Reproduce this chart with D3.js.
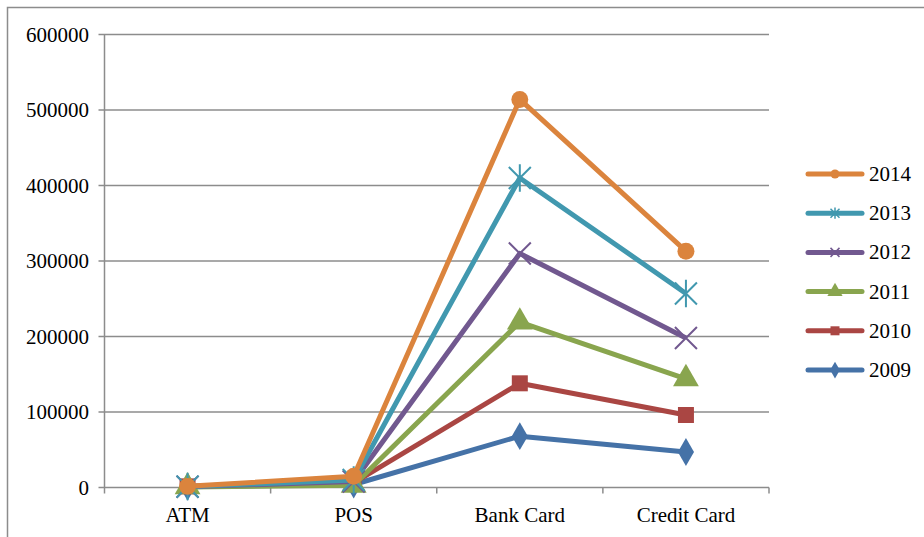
<!DOCTYPE html>
<html><head><meta charset="utf-8">
<script src="https://cdn.jsdelivr.net/npm/d3@7"></script>
</head><body style="margin:0"><svg id="c" width="924" height="537"></svg>
<script>
const categories = ["ATM", "POS", "Bank Card", "Credit Card"];
const years = ["2014", "2013", "2012", "2011", "2010", "2009"];
const v2014 = [1500, 15000, 514000, 313000];
const v2013 = [1200, 10000, 410000, 257000];
const v2012 = [1000, 8000, 310000, 198000];
const v2011 = [800, 3000, 219000, 144000];
const v2010 = [1500, 6000, 138000, 96000];
const v2009 = [1000, 4000, 68000, 47000];
const yTicks = [0, 100000, 200000, 300000, 400000, 500000, 600000];
const colors = ["#DB843D", "#4198AF", "#71588F", "#89A54E", "#AA4643", "#4572A7"];
const markers = ["circle", "star", "x", "triangle", "square", "diamond"];
const seriesVals = [v2014, v2013, v2012, v2011, v2010, v2009];
const FONT = "Liberation Serif";
const FS = "21px";

const svg = d3.select("#c");
svg.append("rect").attr("x", 7.5).attr("y", 7.5).attr("width", 930).attr("height", 540)
  .attr("fill", "none").attr("stroke", "#8c8c8c").attr("stroke-width", 1.5);

const L = 104.5, R = 769, T = 34.5, B = 487.5;
const x = d3.scaleBand().domain(categories).range([L, R]);
const y = d3.scaleLinear().domain([0, 600000]).range([B, T]);

const grid = "#8c8c8c";
svg.append("g").selectAll("line").data(yTicks).join("line")
  .attr("x1", L - 6).attr("x2", R).attr("y1", d => y(d)).attr("y2", d => y(d))
  .attr("stroke", grid).attr("stroke-width", 1.5);
svg.append("line").attr("x1", L).attr("x2", L).attr("y1", T).attr("y2", B).attr("stroke", grid).attr("stroke-width", 1.5);
const bounds = categories.map(c => x(c)).concat([R]);
svg.append("g").selectAll("line").data(bounds).join("line")
  .attr("x1", d => d).attr("x2", d => d).attr("y1", B).attr("y2", B + 6)
  .attr("stroke", grid).attr("stroke-width", 1.5);

svg.append("g").selectAll("text").data(yTicks).join("text")
  .attr("x", 89).attr("y", d => y(d) + 7)
  .style("text-anchor", "end").style("font-family", FONT).style("font-size", FS).text(d => d);
svg.append("g").selectAll("text").data(categories).join("text")
  .attr("x", d => x(d) + x.bandwidth() / 2).attr("y", 522)
  .style("text-anchor", "middle").style("font-family", FONT).style("font-size", FS).text(d => d);

function markerPath(type, s) {
  const sym = {circle: d3.symbolCircle, square: d3.symbolSquare, triangle: d3.symbolTriangle, diamond: d3.symbolDiamond}[type];
  if (sym) return d3.symbol(sym, s * s)();
  const h = s / 2;
  if (type === "x") return `M${-h},${-h}L${h},${h}M${-h},${h}L${h},${-h}`;
  return `M${-h},${-h}L${h},${h}M${-h},${h}L${h},${-h}M0,${-h * 1.25}L0,${h * 1.25}`;
}
const sizes = {circle: 15, square: 16, triangle: 17, diamond: 15, x: 22, star: 22};

const line = d3.line().x((d, i) => x(categories[i]) + x.bandwidth() / 2).y(d => y(d));
for (let k = years.length - 1; k >= 0; k--) {
  const g = svg.append("g");
  const mt = markers[k];
  g.append("path").datum(seriesVals[k]).attr("d", line).attr("fill", "none")
    .attr("stroke", colors[k]).attr("stroke-width", 5).attr("stroke-linejoin", "round");
  g.selectAll("path.m").data(seriesVals[k]).join("path").attr("class", "m")
    .attr("transform", (d, i) => `translate(${x(categories[i]) + x.bandwidth() / 2},${y(d)})`)
    .attr("d", markerPath(mt, sizes[mt]))
    .attr("fill", (mt === "x" || mt === "star") ? "none" : colors[k])
    .attr("stroke", colors[k]).attr("stroke-width", (mt === "x" || mt === "star") ? 2 : 0);
}

const lg = svg.append("g");
years.forEach((yr, k) => {
  const cy = 174 + k * 39.2;
  lg.append("line").attr("x1", 808).attr("x2", 862).attr("y1", cy).attr("y2", cy)
    .attr("stroke", colors[k]).attr("stroke-width", 5).attr("stroke-linecap", "round");
  const mt = markers[k];
  const ms = {circle: 8, square: 9, triangle: 10, diamond: 9, x: 9, star: 9}[mt];
  lg.append("path").attr("transform", `translate(835,${cy})`)
    .attr("d", markerPath(mt, ms))
    .attr("fill", (mt === "x" || mt === "star") ? "none" : colors[k])
    .attr("stroke", colors[k]).attr("stroke-width", (mt === "x" || mt === "star") ? 1.5 : 0);
  lg.append("text").attr("x", 869).attr("y", cy + 7)
    .style("font-family", FONT).style("font-size", FS).text(yr);
});
</script></body></html>
